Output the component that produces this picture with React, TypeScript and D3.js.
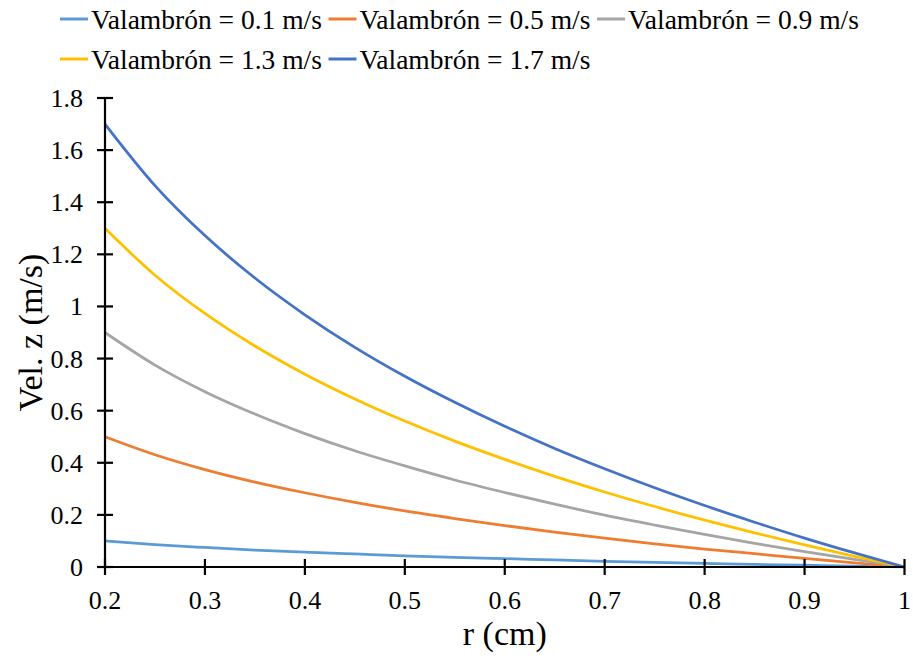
import React from "react";
import * as d3 from "d3";

// Radial position r (cm)
const radius = [0.2, 0.25, 0.3, 0.35, 0.4, 0.45, 0.5, 0.55, 0.6, 0.65, 0.7, 0.75, 0.8, 0.85, 0.9, 0.95, 1.0];

// Axial velocity (m/s) for each wire speed
const vel01 = [0.100, 0.086, 0.075, 0.065, 0.057, 0.050, 0.043, 0.037, 0.032, 0.027, 0.022, 0.018, 0.014, 0.010, 0.007, 0.003, 0];
const vel05 = [0.500, 0.431, 0.374, 0.326, 0.285, 0.248, 0.215, 0.186, 0.159, 0.134, 0.111, 0.089, 0.069, 0.051, 0.033, 0.016, 0];
const vel09 = [0.900, 0.775, 0.673, 0.587, 0.512, 0.446, 0.388, 0.334, 0.286, 0.241, 0.199, 0.161, 0.125, 0.091, 0.059, 0.029, 0];
const vel13 = [1.300, 1.120, 0.973, 0.848, 0.740, 0.645, 0.560, 0.483, 0.413, 0.348, 0.288, 0.232, 0.180, 0.131, 0.085, 0.041, 0];
const vel17 = [1.700, 1.464, 1.272, 1.109, 0.968, 0.843, 0.732, 0.632, 0.540, 0.455, 0.377, 0.304, 0.236, 0.172, 0.111, 0.054, 0];

const seriesNames = [
  "Valambrón = 0.1 m/s",
  "Valambrón = 0.5 m/s",
  "Valambrón = 0.9 m/s",
  "Valambrón = 1.3 m/s",
  "Valambrón = 1.7 m/s",
];
const seriesValues = [vel01, vel05, vel09, vel13, vel17];
const seriesColors = ["#5B9BD5", "#ED7D31", "#A5A5A5", "#FFC000", "#4472C4"];

const xTicks = [0.2, 0.3, 0.4, 0.5, 0.6, 0.7, 0.8, 0.9, 1];
const yTicks = [0, 0.2, 0.4, 0.6, 0.8, 1, 1.2, 1.4, 1.6, 1.8];

const W = 913;
const H = 660;
const SERIF = "Liberation Serif";

// Text drawn at a larger nominal size and scaled down into place
function Label(props: {
  x: number;
  y: number;
  size: number;
  anchor?: "start" | "middle" | "end";
  rotate?: number;
  children: React.ReactNode;
}) {
  const k = props.size / 40;
  return (
    <text
      transform={`translate(${props.x},${props.y}) rotate(${props.rotate || 0}) scale(${k})`}
      fontSize={40}
      fontFamily={SERIF}
      textAnchor={props.anchor || "start"}
      fill="#000"
    >
      {props.children}
    </text>
  );
}

export default function App() {
  const x = d3.scaleLinear().domain([0.2, 1]).range([105, 904.5]);
  const y = d3.scaleLinear().domain([0, 1.8]).range([567, 98]);

  const line = d3
    .line<[number, number]>()
    .x((d) => x(d[0]))
    .y((d) => y(d[1]))
    .curve(d3.curveMonotoneX);

  // legend layout: two rows, three items per row
  const legendStartX = 60;
  const legendStride = 268.5;
  const legendRows = [19, 59];

  return (
    <svg
      width={W}
      height={H}
      style={{ position: "absolute", left: 0, top: 0, background: "#fff" }}
    >
      <rect x={0} y={0} width={W} height={H} fill="#fff" />

      {/* legend */}
      {seriesNames.map((name, i) => {
        const col = i % 3;
        const row = Math.floor(i / 3);
        const lx = legendStartX + col * legendStride;
        const ly = legendRows[row];
        return (
          <g key={name}>
            <line x1={lx} x2={lx + 28} y1={ly} y2={ly} stroke={seriesColors[i]} strokeWidth={3} />
            <Label x={lx + 31} y={ly + 9.5} size={27.5}>
              {name}
            </Label>
          </g>
        );
      })}

      {/* series */}
      {seriesValues.map((vals, i) => (
        <path
          key={i}
          d={line(radius.map((r, k) => [r, vals[k]] as [number, number])) || ""}
          fill="none"
          stroke={seriesColors[i]}
          strokeWidth={2.75}
          strokeLinejoin="round"
        />
      ))}

      {/* y axis */}
      <line x1={105} x2={105} y1={y(1.8)} y2={y(0)} stroke="#000" strokeWidth={2.2} />
      {yTicks.map((t) => (
        <g key={t}>
          <line x1={97} x2={113} y1={y(t)} y2={y(t)} stroke="#000" strokeWidth={2.2} />
          <Label x={83} y={y(t) + 9} size={26} anchor="end">
            {d3.format("~g")(t)}
          </Label>
        </g>
      ))}

      {/* x axis */}
      <line x1={x(0.2)} x2={x(1)} y1={567} y2={567} stroke="#000" strokeWidth={2.2} />
      {xTicks.map((t) => (
        <g key={t}>
          <line x1={x(t)} x2={x(t)} y1={559} y2={575} stroke="#000" strokeWidth={2.2} />
          <Label x={x(t)} y={609} size={26} anchor="middle">
            {d3.format("~g")(t)}
          </Label>
        </g>
      ))}

      {/* axis titles */}
      <Label x={(105 + 904.5) / 2} y={645} size={34} anchor="middle">
        r (cm)
      </Label>
      <Label x={42} y={(98 + 567) / 2} size={34} anchor="middle" rotate={-90}>
        Vel. z (m/s)
      </Label>
    </svg>
  );
}
